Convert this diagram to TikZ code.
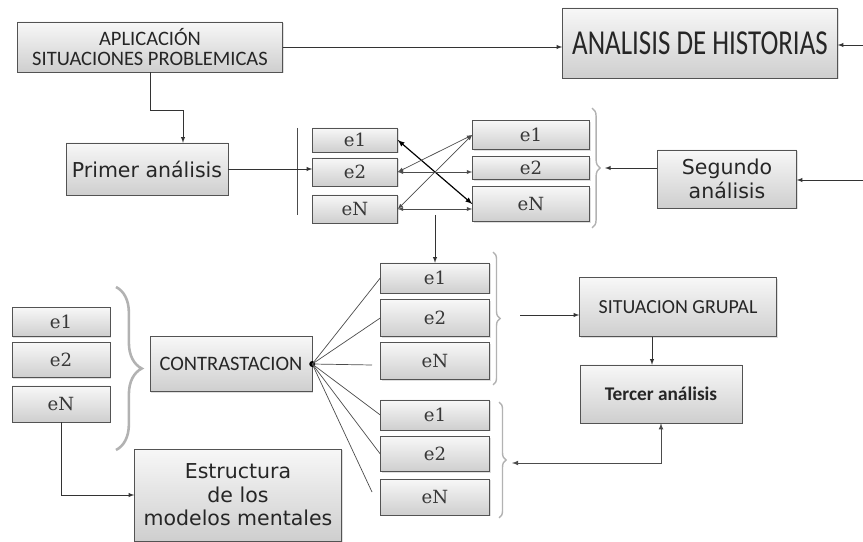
\documentclass[tikz,border=0pt]{standalone}
\usepackage{fontspec}
\setmainfont{Carlito}
\newfontfamily\verd{DejaVu Sans}
\newfontfamily\camb{DejaVu Serif}
\usetikzlibrary{arrows,positioning,decorations.pathreplacing,shadows,calc}

\newcommand{\px}[1]{#1*0.03cm}

\tikzset{
  caja/.style={draw=gray!65!black, top color=gray!6, bottom color=gray!38,
    drop shadow={opacity=0.25, shadow xshift=1.2pt, shadow yshift=-1.2pt},
    inner sep=1pt, align=center, text=black!85},
  celda/.style={caja, font=\camb\fontsize{15.5}{15.5}\selectfont, text=black!78},
  llave/.style={decorate, decoration={brace, amplitude=#1}, draw=gray!60, line width=1.2pt},
  flecha/.style={-latex, draw=black!80, line width=0.7pt},
  linea/.style={draw=black!70, line width=0.6pt}
}

\begin{document}
\begin{tikzpicture}[x=0.03cm,y=-0.03cm]
  \useasboundingbox (0,0) rectangle (863,542);

  % cajas principales
  \node[caja, minimum width=\px{265}, minimum height=\px{50}, font=\fontsize{17.5}{17}\selectfont] (aplic) at (150,47) {APLICACIÓN\\SITUACIONES PROBLEMICAS};
  \node[caja, minimum width=\px{275}, minimum height=\px{70}, font=\fontsize{23}{24}\selectfont] (historias) at (700,43) {\scalebox{1}[1.3]{ANALISIS DE HISTORIAS}};
  \node[caja, minimum width=\px{162}, minimum height=\px{52}, font=\verd\fontsize{17.5}{18}\selectfont] (primer) at (147,169) {Primer análisis};
  \node[caja, minimum width=\px{139}, minimum height=\px{58}, font=\verd\fontsize{17.5}{21}\selectfont] (segundo) at (727,179) {Segundo\\análisis};
  \node[caja, minimum width=\px{162}, minimum height=\px{55}, font=\fontsize{17.5}{18}\selectfont] (contrast) at (231,364) {CONTRASTACION};
  \node[caja, minimum width=\px{197}, minimum height=\px{59}, font=\fontsize{17}{18}\selectfont] (grupal) at (678,307) {SITUACION GRUPAL};
  \node[caja, minimum width=\px{162}, minimum height=\px{58}, font=\bfseries\fontsize{16.5}{18}\selectfont] (tercer) at (661,394) {Tercer análisis};
  \node[caja, minimum width=\px{207}, minimum height=\px{92}, font=\verd\fontsize{17.5}{20}\selectfont] (estruct) at (238,495) {Estructura\\de los\\modelos mentales};

  % columnas de elementos
  \node[celda, minimum width=\px{85}, minimum height=\px{24}] (pa1) at (355,140) {e1};
  \node[celda, minimum width=\px{85}, minimum height=\px{28}] (pa2) at (355,172) {e2};
  \node[celda, minimum width=\px{85}, minimum height=\px{28}] (paN) at (355,209) {eN};

  \node[celda, minimum width=\px{117}, minimum height=\px{29}] (sa1) at (531,135) {e1};
  \node[celda, minimum width=\px{117}, minimum height=\px{23}] (sa2) at (531,168) {e2};
  \node[celda, minimum width=\px{117}, minimum height=\px{35}] (saN) at (531,204) {eN};

  \node[celda, minimum width=\px{109}, minimum height=\px{30}] (ca1) at (435,278) {e1};
  \node[celda, minimum width=\px{109}, minimum height=\px{37}] (ca2) at (435,318) {e2};
  \node[celda, minimum width=\px{109}, minimum height=\px{37}] (caN) at (435,361) {eN};

  \node[celda, minimum width=\px{109}, minimum height=\px{30}] (ta1) at (435,415) {e1};
  \node[celda, minimum width=\px{109}, minimum height=\px{35}] (ta2) at (435,454) {e2};
  \node[celda, minimum width=\px{109}, minimum height=\px{36}] (taN) at (435,497) {eN};

  \node[celda, minimum width=\px{98}, minimum height=\px{29}] (ma1) at (61,322) {e1};
  \node[celda, minimum width=\px{98}, minimum height=\px{35}] (ma2) at (61,360) {e2};
  \node[celda, minimum width=\px{98}, minimum height=\px{36}] (maN) at (61,404) {eN};

  % llaves
  \draw[llave=7pt] (592,108) -- (592,228);
  \draw[llave=6pt] (493,252) -- (493,385);
  \draw[llave=6pt] (499,402) -- (499,518);
  \draw[llave=22pt, line width=2.2pt] (116,287) -- (116,450);

  \coordinate (tip1) at (605,168);
  \coordinate (tip3) at (512,463);
  \coordinate (barra1) at (297,128);
  \coordinate (barra2) at (297,215);
  \coordinate (codo) at (183,110);
  \coordinate (baja) at (435,215);
  \coordinate (sal) at (520,315);
  \coordinate (orilla1) at (863,45);
  \coordinate (orilla2) at (863,180);
  \coordinate (fin1) at (372,365);
  \coordinate (fin2) at (372,492);

  % conectores
  \draw[flecha] (aplic.east) -- (aplic.east -| historias.west);
  \draw[flecha] (orilla1) -- (orilla1 -| historias.east);
  \draw[flecha] (aplic.south) |- (codo) -- (codo |- primer.north);
  \draw[linea] (barra1) -- (barra2);
  \draw[flecha] (primer.east) -- (primer.east -| pa2.west);
  \draw[flecha] (orilla2) -- (orilla2 -| segundo.east);
  \draw[flecha] (segundo.west |- tip1) -- (tip1);

  \draw[latex-latex, line width=1pt] (pa1.east) -- (saN.west);
  \draw[latex-latex, linea] (sa1.west) -- (pa2.east);
  \draw[latex-latex, linea] (sa1.west) -- (paN.east);
  \draw[latex-latex, linea] (pa2.east) -- (pa2.east -| sa2.west);
  \draw[latex-latex, linea] (saN.west |- paN.east) -- (paN.east);

  \draw[flecha] (baja) -- (ca1.north);
  \draw[flecha] (sal) -- (sal -| grupal.west);
  \draw[flecha] ($(grupal.south)+(-26,0)$) -- ($(tercer.north)+(-9,0)$);
  \draw[latex-latex, linea, line width=0.8pt] (tercer.south) |- (tip3);

  \fill[black] (contrast.east) circle (3);
  \foreach \d in {ca1.west, ca2.west, fin1, ta1.west, ta2.west, fin2}
    \draw[linea] (contrast.east) -- (\d);

  \draw[flecha] (maN.south) |- (estruct.west);
\end{tikzpicture}
\end{document}
